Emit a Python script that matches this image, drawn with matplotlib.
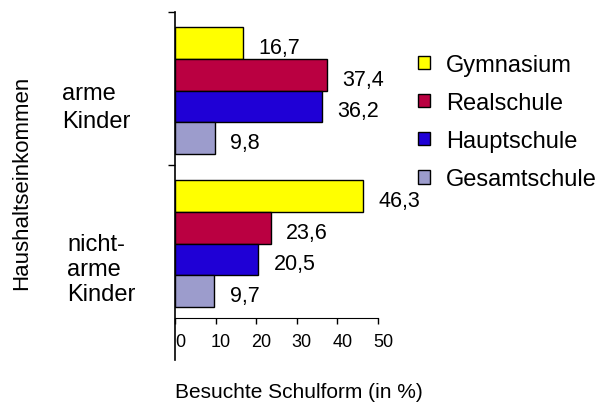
import numpy as np
import matplotlib
matplotlib.use("Agg")
import matplotlib.pyplot as plt
from matplotlib.transforms import ScaledTranslation

plt.rcParams['font.family'] = ['Liberation Sans', 'DejaVu Sans']

######### Data #########

gruppen = ["arme\nKinder", "nicht-\narme\nKinder"]
schulformen = ["Gymnasium", "Realschule", "Hauptschule", "Gesamtschule"]
farben = ["#FFFF00", "#BA0041", "#1F00D6", "#9C9CCC"]

# werte pro schulform: [arme Kinder, nicht-arme Kinder]
gymnasium = [16.7, 46.3]
realschule = [37.4, 23.6]
hauptschule = [36.2, 20.5]
gesamtschule = [9.8, 9.7]
werte = [gymnasium, realschule, hauptschule, gesamtschule]

xticks = [0, 10, 20, 30, 40, 50]

######### Figure #########

fig = plt.figure(figsize=(6, 4.06), dpi=100)
ax = fig.add_axes([175/600, 1-319/406, 203/600, 306/406])

zentren = np.array([1.5, 0.5])      # arme oben, nicht-arme unten
h = 0.207
versatz = -0.015

for i, (name, vals, col) in enumerate(zip(schulformen, werte, farben)):
    ypos = zentren + (1.5 - i) * h + versatz
    bars = ax.barh(ypos, vals, height=h, color=col, edgecolor="black",
                   linewidth=1, label=name)
    for b, v in zip(bars, vals):
        ax.annotate(f"{v:.1f}".replace(".", ","),
                    (b.get_width(), b.get_y() + b.get_height()/2),
                    xytext=(11, -3), textcoords="offset points",
                    va="center", ha="left", fontsize=15.5)

ax.set_xlim(0, 50)
ax.set_ylim(0, 2)
ax.set_xticks(xticks)
ax.set_xticklabels([str(t) for t in xticks], fontsize=13)
ax.set_yticks([1, 2])
ax.set_yticklabels([])
ax.tick_params(axis="x", direction="out", length=4, width=1, pad=7)
ax.tick_params(axis="y", direction="out", length=5, width=1)
for lab in ax.get_xticklabels():
    lab.set_transform(lab.get_transform() + ScaledTranslation(5/100, 0, fig.dpi_scale_trans))

for s in ["top", "right"]:
    ax.spines[s].set_visible(False)
ax.spines["left"].set_visible(False)
# y-Achse geht unter die x-Achse hinaus
ax.plot([0, 0], [-0.137, 1], transform=ax.transAxes, color="black",
        linewidth=1.2, clip_on=False)

# Gruppenbeschriftung
fig.text(62/600, 1-108/406, gruppen[0], fontsize=17, va="center", ha="left",
         linespacing=1.33)
fig.text(67/600, 1-270/406, gruppen[1], fontsize=17, va="center", ha="left",
         linespacing=1.15)

fig.text(22/600, 1-183/406, "Haushaltseinkommen", rotation=90, fontsize=16,
         va="center", ha="center")
fig.text(299/600, 1-393/406, "Besuchte Schulform (in %)", fontsize=15,
         va="center", ha="center")

fig.legend(loc="upper left", bbox_to_anchor=(418/600, 1-55/406),
           frameon=False, fontsize=17, handlelength=0.5, handleheight=0.5,
           handletextpad=0.7, labelspacing=0.68, borderpad=0, borderaxespad=0)

fig.savefig("out.png", dpi=100)
